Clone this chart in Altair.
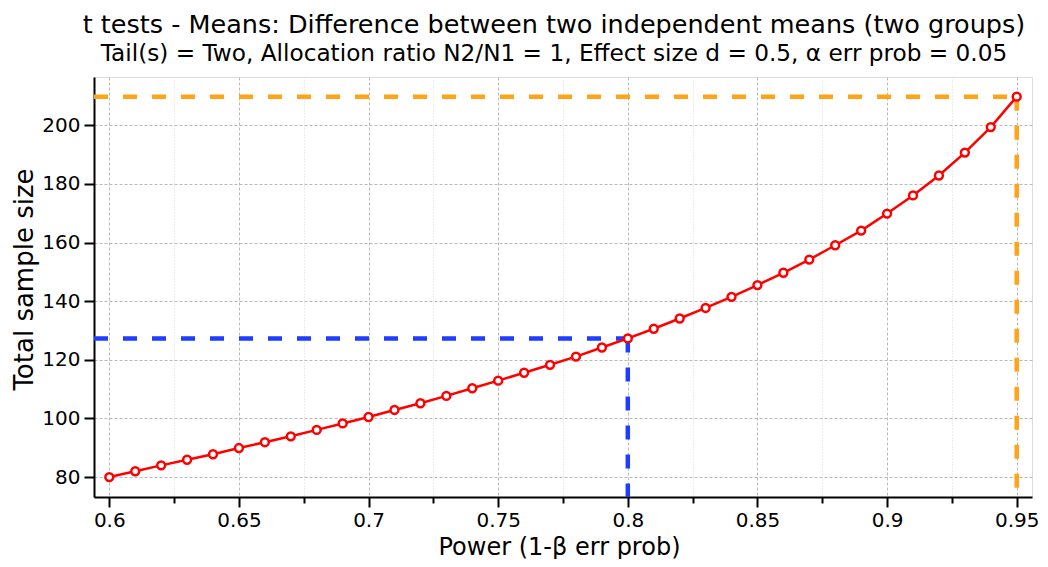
import altair as alt
import pandas as pd

# ---- data ----
power = [0.60, 0.61, 0.62, 0.63, 0.64, 0.65, 0.66, 0.67, 0.68, 0.69,
         0.70, 0.71, 0.72, 0.73, 0.74, 0.75, 0.76, 0.77, 0.78, 0.79,
         0.80, 0.81, 0.82, 0.83, 0.84, 0.85, 0.86, 0.87, 0.88, 0.89,
         0.90, 0.91, 0.92, 0.93, 0.94, 0.95]
total_n = [80.0, 82.0, 84.0, 85.9, 87.8, 89.9, 91.9, 93.9, 96.1, 98.3,
           100.5, 102.9, 105.2, 107.7, 110.3, 112.9, 115.6, 118.3, 121.1, 124.2,
           127.3, 130.6, 134.1, 137.7, 141.5, 145.5, 149.7, 154.2, 159.1, 164.1,
           169.9, 176.1, 182.9, 190.7, 199.4, 209.8]

x_ticks = [0.6, 0.625, 0.65, 0.675, 0.7, 0.725, 0.75, 0.775, 0.8, 0.825,
           0.85, 0.875, 0.9, 0.925, 0.95]
y_ticks = [80, 90, 100, 110, 120, 130, 140, 150, 160, 170, 180, 190, 200, 210]

x_domain = [0.5941, 0.9559]
y_domain = [73.2, 216.5]

ref_power = [0.80, 0.95]
ref_n = [total_n[power.index(0.80)], total_n[power.index(0.95)]]
ref_color = ["#1f3dff", "#ffa318"]

title_text = "t tests - Means: Difference between two independent means (two groups)"
subtitle_text = "Tail(s) = Two, Allocation ratio N2/N1 = 1, Effect size d = 0.5, \u03b1 err prob = 0.05"

FONT = "DejaVu Sans"

df = pd.DataFrame({"power": power, "n": total_n})
ref = pd.DataFrame({"power": ref_power, "n": ref_n, "c": ref_color,
                    "xmin": [x_domain[0]] * 2, "ymin": [y_domain[0]] * 2})

x_major = "round(datum.value*1000) % 50 == 0"
y_major = "datum.value % 20 == 0"

x_scale = alt.Scale(domain=x_domain, nice=False, zero=False)
y_scale = alt.Scale(domain=y_domain, nice=False, zero=False)

x_axis = alt.Axis(
    values=x_ticks,
    labelExpr="round(datum.value*1000) % 50 == 0 ? toString(datum.value) : ''",
    title="Power (1-\u03b2 err prob)",
    titleFontSize=24, titleFont=FONT, titleFontWeight="normal", titleColor="black",
    titleX=465, titleY=57, titleBaseline="alphabetic", titleAlign="center",
    labelFontSize=20, labelFont=FONT, labelColor="black", labelPadding=3,
    labelFlush=False, labelOverlap=False,
    domainColor="black", domainWidth=2,
    tickColor="black", tickWidth=2,
    tickSize={"condition": {"test": x_major, "value": 10}, "value": 6},
    grid=True,
    gridColor={"condition": {"test": x_major, "value": "#b9b9b9"}, "value": "#dadada"},
    gridDash={"condition": {"test": x_major, "value": [3, 2]}, "value": [1, 2]},
    gridWidth=1,
)
y_axis = alt.Axis(
    values=y_ticks,
    labelExpr="datum.value % 20 == 0 ? toString(datum.value) : ''",
    title="Total sample size",
    titleFontSize=26, titleFont=FONT, titleFontWeight="normal", titleColor="black",
    titleX=-62, titleY=202, titleBaseline="alphabetic", titleAlign="center", titleAngle=270,
    labelFontSize=20, labelFont=FONT, labelColor="black", labelPadding=4,
    labelFlush=False, labelOverlap=False,
    domainColor="black", domainWidth=2,
    tickColor="black", tickWidth=2,
    tickSize={"condition": {"test": y_major, "value": 10}, "value": 6},
    grid=True,
    gridColor={"condition": {"test": y_major, "value": "#b9b9b9"}, "value": "#dadada"},
    gridDash={"condition": {"test": y_major, "value": [3, 2]}, "value": [1, 2]},
    gridWidth=1,
)

base = alt.Chart(df)

line = base.mark_line(color="#ff0000", strokeWidth=2.5).encode(
    x=alt.X("power:Q", scale=x_scale, axis=x_axis),
    y=alt.Y("n:Q", scale=y_scale, axis=y_axis),
)

hrule = alt.Chart(ref).mark_rule(strokeWidth=4.5, strokeDash=[14, 15]).encode(
    x=alt.X("xmin:Q", scale=x_scale), x2="power:Q",
    y=alt.Y("n:Q", scale=y_scale),
    color=alt.Color("c:N", scale=None),
)
vrule = alt.Chart(ref).mark_rule(strokeWidth=4.5, strokeDash=[14, 15]).encode(
    x=alt.X("power:Q", scale=x_scale),
    y=alt.Y("n:Q", scale=y_scale), y2="ymin:Q",
    color=alt.Color("c:N", scale=None),
)

points = base.mark_point(shape="circle", filled=True, fill="white", stroke="#ff0000",
                         strokeWidth=2.5, size=62, opacity=1, fillOpacity=1).encode(
    x=alt.X("power:Q", scale=x_scale),
    y=alt.Y("n:Q", scale=y_scale),
)

chart = alt.layer(hrule, vrule, line, points).properties(
    width=938, height=420,
    autosize=alt.AutoSizeParams(type="none"),
    padding={"left": 86, "top": 69, "right": 8, "bottom": 62},
    title=alt.TitleParams(
        text=title_text, subtitle=subtitle_text,
        font=FONT, subtitleFont=FONT, fontSize=25.5, subtitleFontSize=23.2,
        fontWeight="normal", color="black", subtitleColor="black",
        anchor="middle", dx=-9, offset=12, subtitlePadding=4,
    ),
).configure_view(stroke="transparent").configure(background="white")

chart.save("out.html", embed_options={"renderer": "svg", "actions": False})
